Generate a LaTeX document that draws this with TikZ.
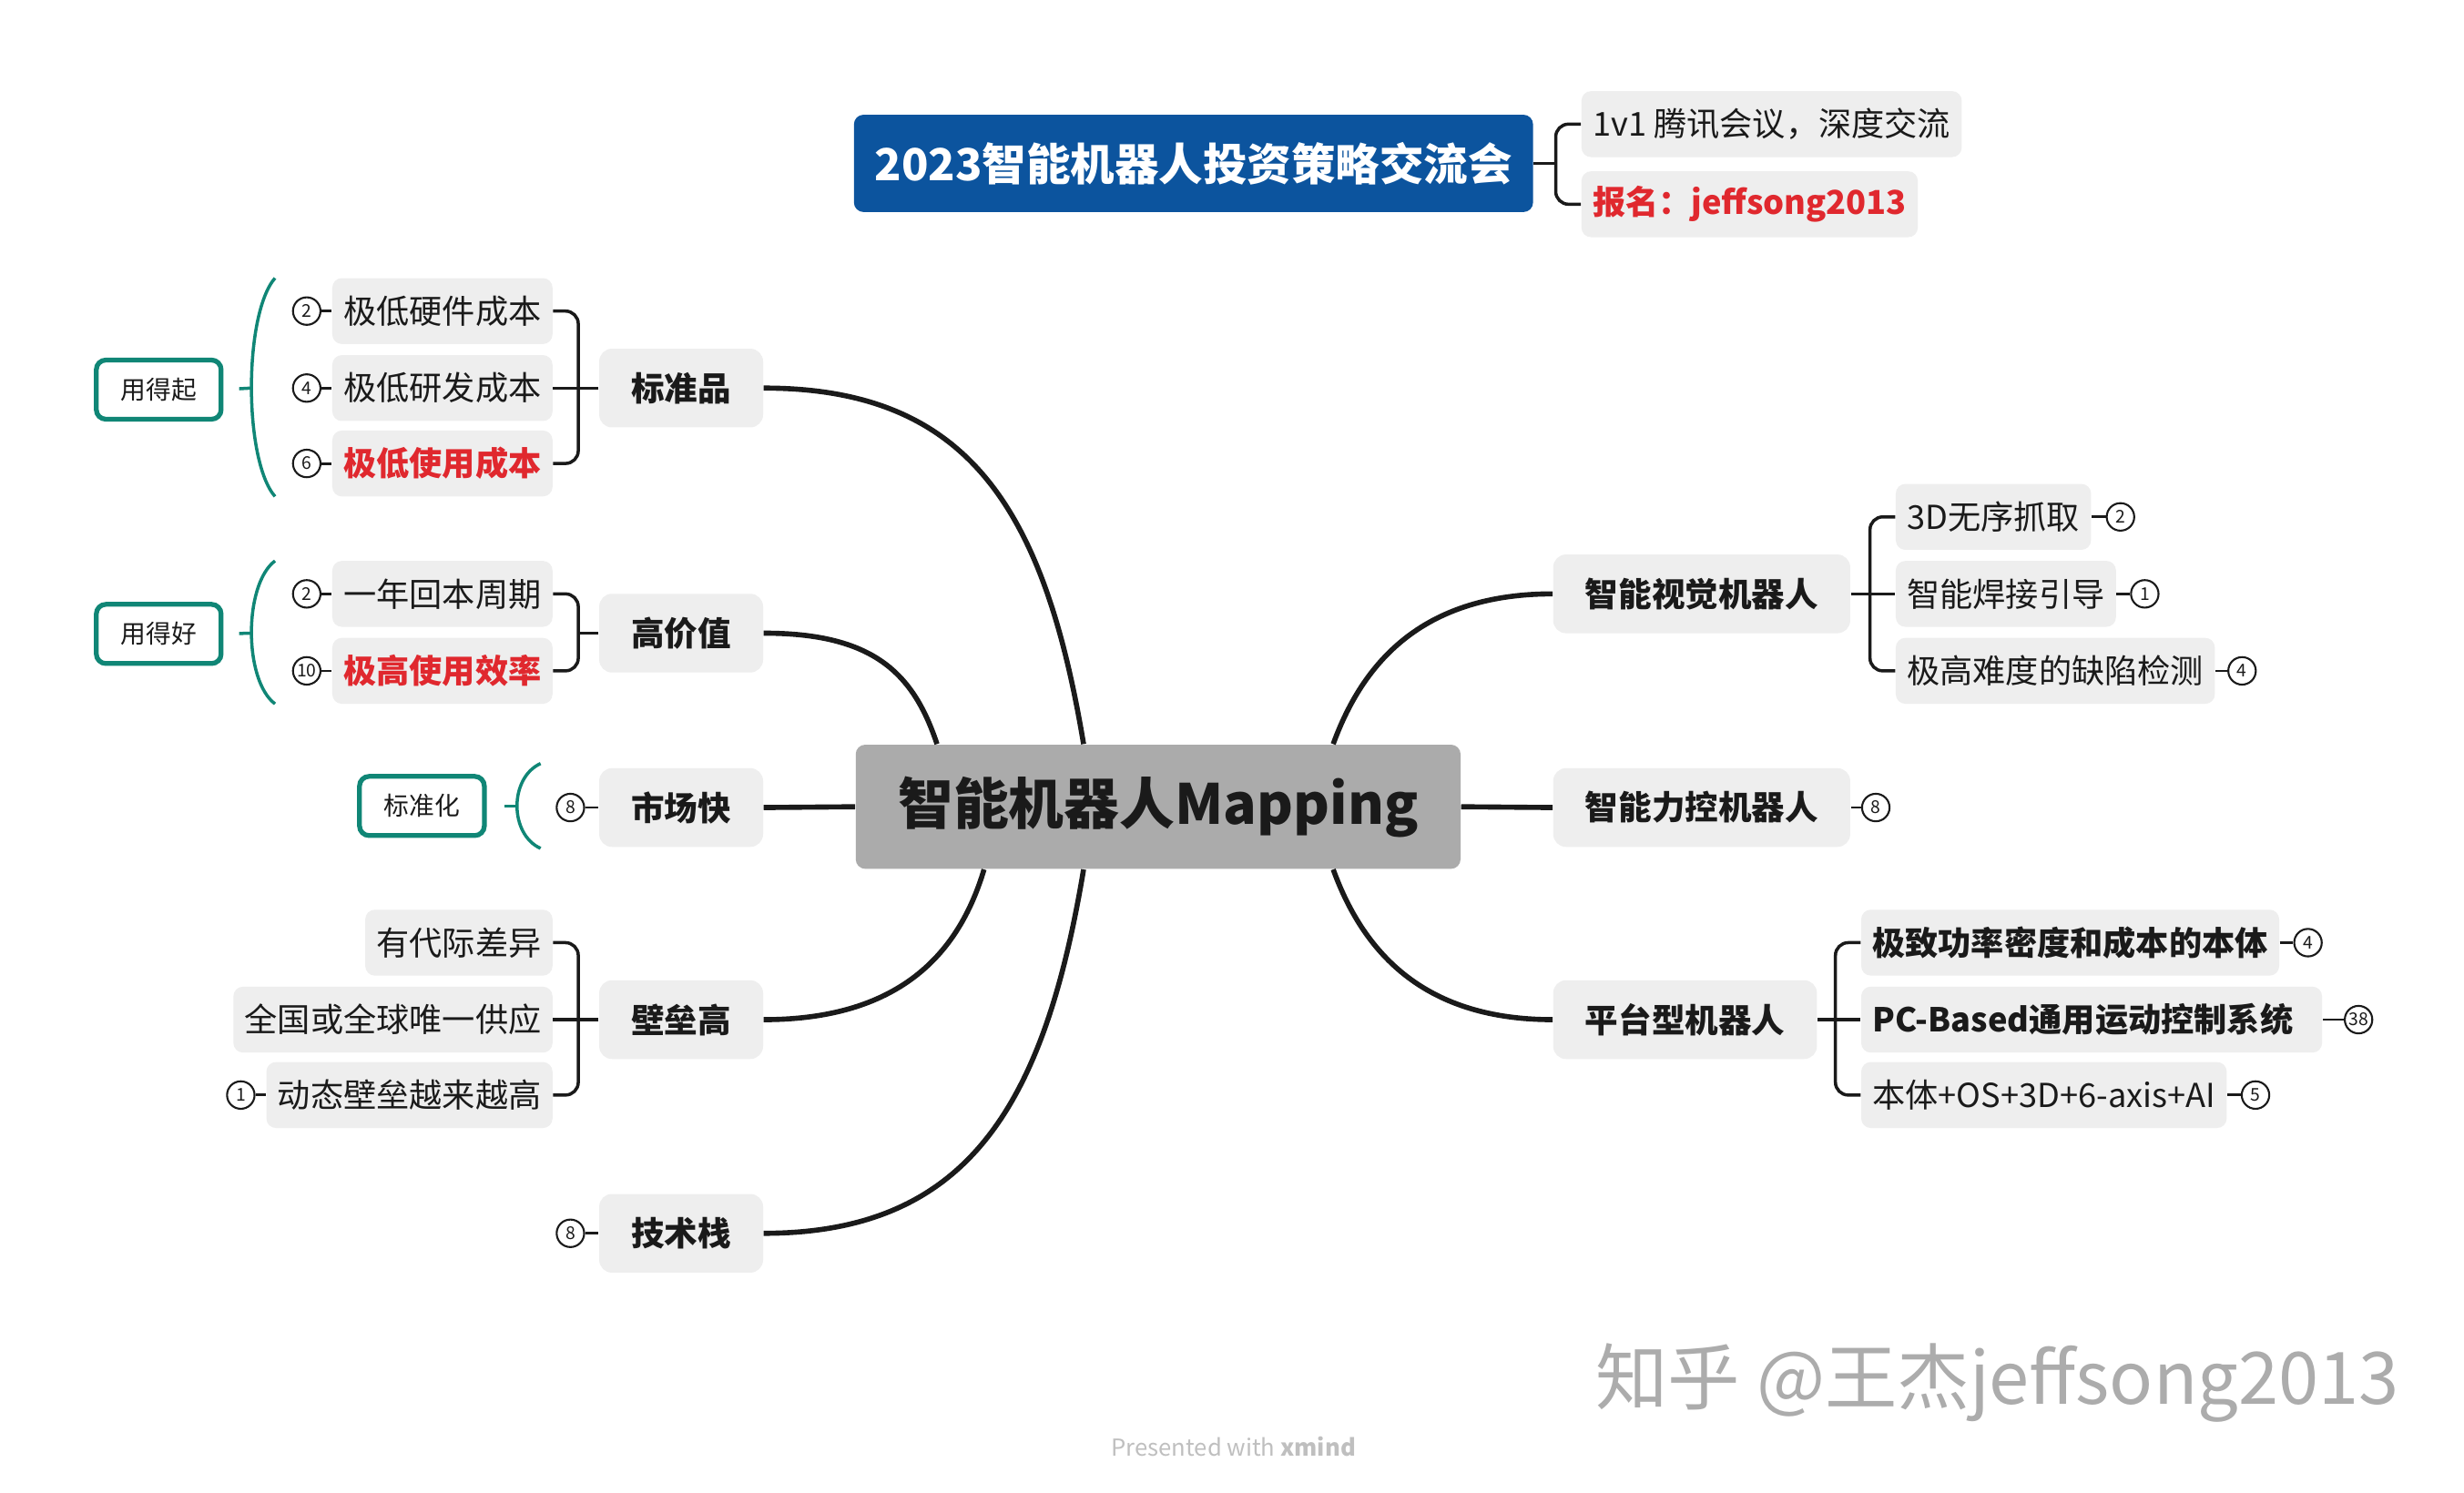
\documentclass[tikz,border=0pt]{standalone}
\usepackage{fontspec}
\setmainfont{Noto Sans CJK SC}
\usepackage{tikz}
\definecolor{inkblack}{RGB}{26,26,26}
\definecolor{titleblue}{RGB}{12,84,158}
\definecolor{hubgray}{RGB}{171,171,171}
\definecolor{boxgray}{RGB}{238,238,238}
\definecolor{tealline}{RGB}{16,134,118}
\definecolor{hotred}{RGB}{224,40,46}
\definecolor{markgray}{RGB}{172,172,172}
\tikzstyle{hubbox} = [fill=hubgray,rounded corners=3pt,minimum width=189pt,minimum height=38.8pt,
    text=inkblack,font=\fontsize{17.3}{20}\selectfont\bfseries]
\tikzstyle{titlebox} = [fill=titleblue,rounded corners=3pt,minimum height=30.4pt,inner xsep=6.5pt,
    text=white,font=\fontsize{13.8}{16}\selectfont\bfseries]
\tikzstyle{topic} = [fill=boxgray,rounded corners=4pt,minimum height=24.6pt,inner xsep=10pt,
    text=inkblack,font=\fontsize{10.4}{12}\selectfont\bfseries]
\tikzstyle{leaf} = [fill=boxgray,rounded corners=3pt,minimum height=20.6pt,inner xsep=3.5pt,
    text=inkblack,font=\fontsize{10.3}{12}\selectfont]
\tikzstyle{hot} = [text=hotred,font=\fontsize{10.3}{12}\selectfont\bfseries]
\tikzstyle{strong} = [font=\fontsize{10.3}{12}\selectfont\bfseries]
\tikzstyle{summary} = [draw=tealline,line width=1.5pt,fill=white,rounded corners=3pt,minimum width=39pt,
    minimum height=18.5pt,text=inkblack,font=\fontsize{7.9}{9}\selectfont]
\tikzstyle{marker} = [draw=inkblack,circle,line width=0.6pt,minimum size=8.6pt,inner sep=0pt,
    text=inkblack,font=\fontsize{5.5}{6}\selectfont]
\tikzstyle{branch} = [draw=inkblack,line width=1.6pt]
\tikzstyle{limb} = [draw=inkblack,line width=1pt,rounded corners=4pt]
\tikzstyle{stub} = [draw=inkblack,line width=0.8pt]
\tikzstyle{brace} = [draw=tealline,line width=1pt]

\begin{document}
\begin{tikzpicture}[x=0.01726cm,y=-0.01726cm]
                        \fill[white] (0,0) rectangle (1568,950.3);
                        \useasboundingbox (0,0) rectangle (1568,950.3);

                        \node[hubbox] (hub) at (737,513.5) {智能机器人Mapping};

                        \node[titlebox] (title) at (759.5,104) {2023智能机器人投资策略交流会};
                        \node[leaf,anchor=west] (meet) at (1006,79) {1v1 腾讯会议，深度交流};
                        \node[leaf,hot,anchor=west] (signup) at (1006,130) {报名：jeffsong2013};
                        \coordinate (titlej) at (990,104);
                        \draw[limb] (title.east) -- (titlej);
                        \draw[limb] (meet.west) -- (meet.west -| titlej) -- (signup.west -| titlej) -- (signup.west);

                        \node[topic,anchor=east] (std) at (486,247) {标准品};
                        \node[leaf,anchor=east] (std1) at (352,198) {极低硬件成本};
                        \node[leaf,anchor=east] (std2) at (352,247) {极低研发成本};
                        \node[leaf,hot,anchor=east] (std3) at (352,295) {极低使用成本};
                        \coordinate (stdj) at (368,247);
                        \draw[limb] (std.west) -- (std2.east);
                        \draw[limb] (std1.east) -- (std1.east -| stdj) -- (std3.east -| stdj) -- (std3.east);
                        \node[marker,anchor=east] (std1n) at ([xshift=-3.2pt]std1.west) {2};
                        \node[marker,anchor=east] (std2n) at ([xshift=-3.2pt]std2.west) {4};
                        \node[marker,anchor=east] (std3n) at ([xshift=-3.2pt]std3.west) {6};
                        \draw[stub] (std1n) -- (std1);
                        \draw[stub] (std2n) -- (std2);
                        \draw[stub] (std3n) -- (std3);
                        \node[summary] (stdsum) at (101,248) {用得起};
                        \coordinate (stdtop) at (175,177);
                        \coordinate (stdbot) at (175,316);
                        \coordinate (stdmid) at (160,247);
                        \draw[brace] (stdtop) .. controls +(-20,23) and +(-20,-23) .. (stdbot);
                        \draw[brace,shorten >=4.9pt] (stdmid) -- (stdsum.east);

                        \node[topic,anchor=east] (val) at (486,403) {高价值};
                        \node[leaf,anchor=east] (val1) at (352,378) {一年回本周期};
                        \node[leaf,hot,anchor=east] (val2) at (352,427) {极高使用效率};
                        \coordinate (valj) at (368,403);
                        \draw[limb] (val.west) -- (valj);
                        \draw[limb] (val1.east) -- (val1.east -| valj) -- (val2.east -| valj) -- (val2.east);
                        \node[marker,anchor=east] (val1n) at ([xshift=-3.2pt]val1.west) {2};
                        \node[marker,anchor=east] (val2n) at ([xshift=-3.2pt]val2.west) {10};
                        \draw[stub] (val1n) -- (val1);
                        \draw[stub] (val2n) -- (val2);
                        \node[summary] (valsum) at (101,403.5) {用得好};
                        \coordinate (valtop) at (175,357);
                        \coordinate (valbot) at (175,448);
                        \coordinate (valmid) at (160,403);
                        \draw[brace] (valtop) .. controls +(-20,15) and +(-20,-15) .. (valbot);
                        \draw[brace,shorten >=4.9pt] (valmid) -- (valsum.east);

                        \node[topic,anchor=east] (mkt) at (486,514) {市场快};
                        \node[marker,anchor=east] (mktn) at ([xshift=-4.2pt]mkt.west) {8};
                        \draw[stub] (mktn) -- (mkt);
                        \node[summary] (mktsum) at (268.5,513) {标准化};
                        \coordinate (mkttop) at (344,486);
                        \coordinate (mktbot) at (344,540);
                        \coordinate (mktmid) at (329,513);
                        \draw[brace] (mkttop) .. controls +(-20,9) and +(-20,-9) .. (mktbot);
                        \draw[brace,shorten >=5.4pt] (mktmid) -- (mktsum.east);

                        \node[topic,anchor=east] (bar) at (486,649) {壁垒高};
                        \node[leaf,anchor=east] (bar1) at (352,600) {有代际差异};
                        \node[leaf,anchor=east] (bar2) at (352,649) {全国或全球唯一供应};
                        \node[leaf,anchor=east] (bar3) at (352,697) {动态壁垒越来越高};
                        \coordinate (barj) at (368,649);
                        \draw[limb] (bar.west) -- (bar2.east);
                        \draw[limb] (bar1.east) -- (bar1.east -| barj) -- (bar3.east -| barj) -- (bar3.east);
                        \node[marker,anchor=east] (bar3n) at ([xshift=-3.2pt]bar3.west) {1};
                        \draw[stub] (bar3n) -- (bar3);

                        \node[topic,anchor=east] (tech) at (486,785) {技术栈};
                        \node[marker,anchor=east] (techn) at ([xshift=-4.2pt]tech.west) {8};
                        \draw[stub] (techn) -- (tech);

                        \node[topic,anchor=west] (vis) at (988,378) {智能视觉机器人};
                        \node[leaf,anchor=west] (vis1) at (1206,329) {3D无序抓取};
                        \node[leaf,anchor=west] (vis2) at (1206,378) {智能焊接引导};
                        \node[leaf,anchor=west] (vis3) at (1206,427) {极高难度的缺陷检测};
                        \coordinate (visj) at (1190,378);
                        \draw[limb] (vis.east) -- (vis2.west);
                        \draw[limb] (vis1.west) -- (vis1.west -| visj) -- (vis3.west -| visj) -- (vis3.west);
                        \node[marker,anchor=west] (vis1n) at ([xshift=4.4pt]vis1.east) {2};
                        \node[marker,anchor=west] (vis2n) at ([xshift=4.2pt]vis2.east) {1};
                        \node[marker,anchor=west] (vis3n) at ([xshift=3.7pt]vis3.east) {4};
                        \draw[stub] (vis1) -- (vis1n);
                        \draw[stub] (vis2) -- (vis2n);
                        \draw[stub] (vis3) -- (vis3n);

                        \node[topic,anchor=west] (force) at (988,514) {智能力控机器人};
                        \node[marker,anchor=west] (forcen) at ([xshift=3.2pt]force.east) {8};
                        \draw[stub] (force) -- (forcen);

                        \node[topic,anchor=west] (plat) at (988,649) {平台型机器人};
                        \node[leaf,strong,anchor=west] (plat1) at (1184,600) {极致功率密度和成本的本体};
                        \node[leaf,strong,anchor=west,text width=137pt,align=left] (plat2) at (1184,649)
                            {PC-Based通用运动控制系统};
                        \node[leaf,anchor=west] (plat3) at (1184,697) {本体+OS+3D+6-axis+AI};
                        \coordinate (platj) at (1168,649);
                        \draw[limb] (plat.east) -- (plat2.west);
                        \draw[limb] (plat1.west) -- (plat1.west -| platj) -- (plat3.west -| platj) -- (plat3.west);
                        \node[marker,anchor=west] (plat1n) at ([xshift=4.2pt]plat1.east) {4};
                        \node[marker,anchor=west] (plat2n) at ([xshift=6.6pt]plat2.east) {38};
                        \node[marker,anchor=west] (plat3n) at ([xshift=4.2pt]plat3.east) {5};
                        \draw[stub] (plat1) -- (plat1n);
                        \draw[stub] (plat2) -- (plat2n);
                        \draw[stub] (plat3) -- (plat3n);

                        \draw[branch] (std.east) .. controls +(130,0) and +(-25,-150) .. ([xshift=71.4pt]hub.north west);
                        \draw[branch] (val.east) .. controls +(70,0) and +(-15,-45) .. ([xshift=25.6pt]hub.north west);
                        \draw[branch] (mkt.east) -- (hub.west);
                        \draw[branch] (bar.east) .. controls +(90,0) and +(-15,50) .. ([xshift=40.3pt]hub.south west);
                        \draw[branch] (tech.east) .. controls +(130,0) and +(-25,150) .. ([xshift=71.4pt]hub.south west);
                        \draw[branch] (vis.west) .. controls +(-80,0) and +(20,-55) .. ([xshift=-40pt]hub.north east);
                        \draw[branch] (force.west) -- (hub.east);
                        \draw[branch] (plat.west) .. controls +(-80,0) and +(20,55) .. ([xshift=-40pt]hub.south east);

                        \node[text=markgray,font=\fontsize{22.6}{24}\selectfont] (mark) at (1271,880) {知乎 @王杰jeffsong2013};
                        \node[text=black!25,font=\fontsize{7.3}{8}\selectfont] (credit) at (785,921) {Presented with \textbf{xmind}};
                    \end{tikzpicture}
\end{document}
